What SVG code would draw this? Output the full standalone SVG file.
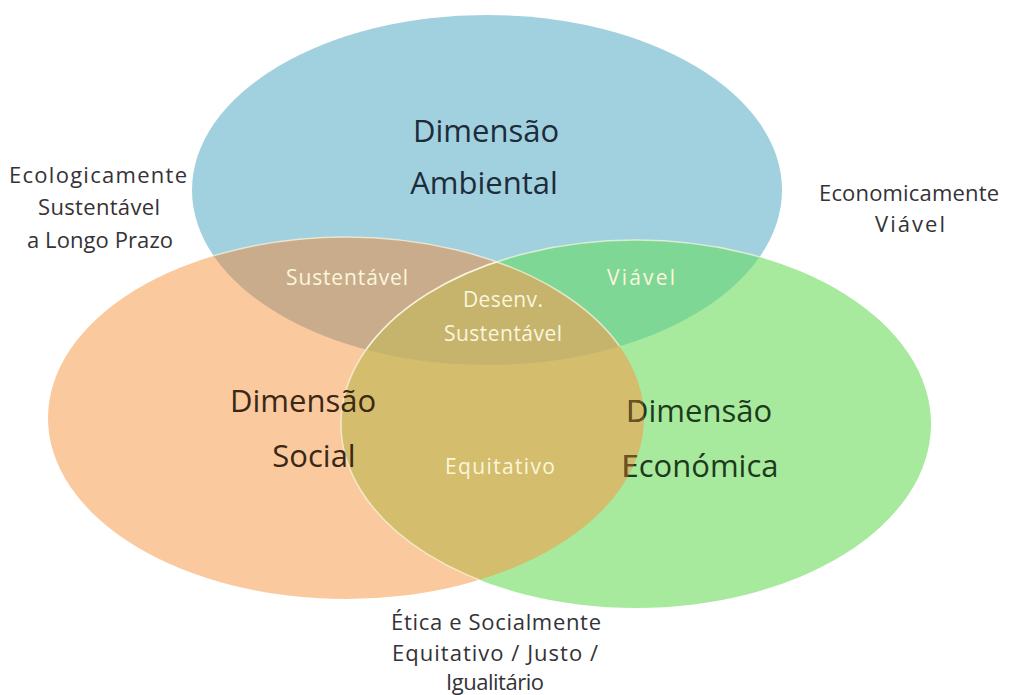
<svg xmlns="http://www.w3.org/2000/svg" width="1014" height="695" viewBox="0 0 1014 695">
<style>
text{font-family:"Open Sans","Liberation Sans",sans-serif;text-anchor:middle}
.big{font-size:31px}
.lab{font-size:22px;fill:#353238}
.in{font-size:21px;fill:#fbf6dc}
.edge{fill:none;stroke:#fffbe8;stroke-opacity:0.65;stroke-width:1.5}
</style>
<defs>
<clipPath id="cBlue"><ellipse cx="487" cy="190" rx="295" ry="175"/></clipPath>
<clipPath id="cOrange"><ellipse cx="346" cy="418" rx="298" ry="181"/></clipPath>
<clipPath id="cGreen"><ellipse cx="636" cy="424" rx="295" ry="184"/></clipPath>
</defs>
<rect width="1014" height="695" fill="#ffffff"/>
<g id="ambiental">
<ellipse cx="487" cy="190" rx="295" ry="175" fill="#a1d1df"/>
</g>
<g id="social">
<ellipse cx="346" cy="418" rx="298" ry="181" fill="#fbc99e"/>
</g>
<g id="economica">
<ellipse cx="636" cy="424" rx="295" ry="184" fill="#a8ea9d"/>
</g>
<g id="overlaps">
<g clip-path="url(#cBlue)"><ellipse cx="346" cy="418" rx="298" ry="181" fill="#c9ac8c"/></g>
<g clip-path="url(#cBlue)"><ellipse cx="636" cy="424" rx="295" ry="184" fill="#7ed794"/></g>
<g clip-path="url(#cOrange)"><ellipse cx="636" cy="424" rx="295" ry="184" fill="#d4bd6d"/></g>
<g clip-path="url(#cBlue)"><g clip-path="url(#cOrange)"><ellipse cx="636" cy="424" rx="295" ry="184" fill="#c6b46c"/></g></g>
</g>
<g id="edges">
<g clip-path="url(#cBlue)"><ellipse class="edge" cx="346" cy="418" rx="298" ry="181"/><ellipse class="edge" cx="636" cy="424" rx="295" ry="184"/></g>
<g clip-path="url(#cOrange)"><ellipse class="edge" cx="636" cy="424" rx="295" ry="184"/></g>
</g>
<g id="labels-main">
<text class="big" x="486" y="142" fill="#1d2b3a">Dimensão</text>
<text class="big" x="484" y="194" fill="#1d2b3a">Ambiental</text>
<text class="big" x="303" y="412" fill="#3a2816">Dimensão</text>
<text class="big" x="314" y="467" fill="#3a2816">Social</text>
<text class="big" x="699" y="422" fill="#1d3a1c">Dimensão</text>
<text class="big" x="700" y="477" fill="#1d3a1c">Económica</text>
<g clip-path="url(#cOrange)">
<text class="big" x="699" y="422" fill="#6b5222">Dimensão</text>
<text class="big" x="700" y="477" fill="#6b5222">Económica</text>
</g>
</g>
<g id="labels-overlap">
<text class="in" x="347" y="285" textLength="122" lengthAdjust="spacing">Sustentável</text>
<text class="in" x="641" y="285" textLength="68" lengthAdjust="spacing">Viável</text>
<text class="in" x="503" y="307" textLength="80" lengthAdjust="spacing">Desenv.</text>
<text class="in" x="503" y="341" textLength="118" lengthAdjust="spacing">Sustentável</text>
<text class="in" x="500" y="474" textLength="110" lengthAdjust="spacing">Equitativo</text>
</g>
<g id="labels-outer">
<text class="lab" x="98" y="183" textLength="178" lengthAdjust="spacing">Ecologicamente</text>
<text class="lab" x="99" y="215" textLength="122" lengthAdjust="spacing">Sustentável</text>
<text class="lab" x="100" y="248" textLength="146" lengthAdjust="spacing">a Longo Prazo</text>
<text class="lab" x="909" y="201" textLength="180" lengthAdjust="spacing">Economicamente</text>
<text class="lab" x="910" y="232" textLength="70" lengthAdjust="spacing">Viável</text>
<text class="lab" x="496" y="630" textLength="210" lengthAdjust="spacing">Ética e Socialmente</text>
<text class="lab" x="495" y="661" textLength="206" lengthAdjust="spacing">Equitativo / Justo /</text>
<text class="lab" x="495" y="690" textLength="98" lengthAdjust="spacing">Igualitário</text>
</g>
</svg>
